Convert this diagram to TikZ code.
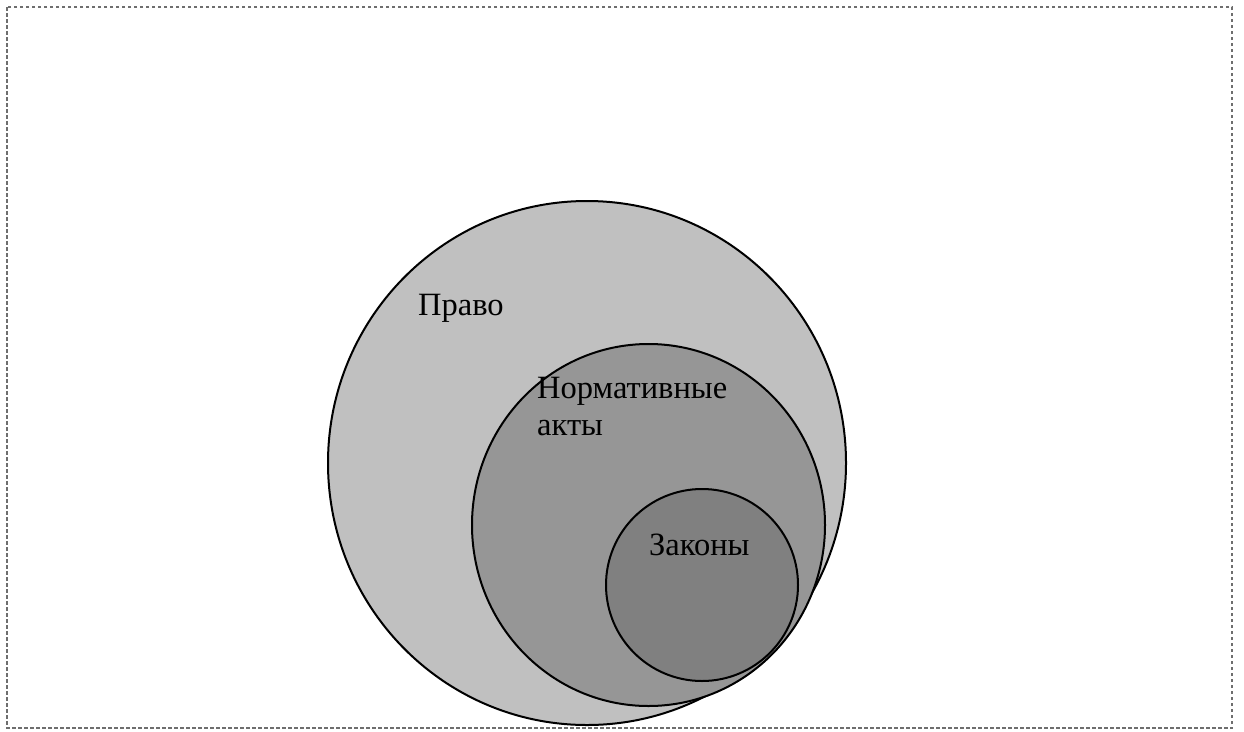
\documentclass[tikz,border=0pt]{standalone}
\usepackage{fontspec}
\setmainfont{Liberation Serif}
\newfontfamily\lblfont{Liberation Serif}
\definecolor{cOuter}{HTML}{C0C0C0}
\definecolor{cMid}{HTML}{969696}
\definecolor{cIn}{HTML}{808080}
\definecolor{cFrame}{HTML}{6E6E6E}
\begin{document}
\begin{tikzpicture}[x=1pt,y=-1pt,
  setcircle/.style={draw=black,line width=2pt},
  lbl/.style={anchor=base west,inner sep=0pt,font=\lblfont\fontsize{32.5}{37}\selectfont,text=black,align=left},
  frame/.style={draw=cFrame,line width=1.2pt,dash pattern=on 3.5pt off 2.5pt}]
\useasboundingbox (0,0) rectangle (1244,731);
\draw[frame] (7,7) rectangle (1232,728);
\draw[setcircle,fill=cOuter] (587,463) ellipse [x radius=259, y radius=262];
\draw[setcircle,fill=cMid] (648.5,525) ellipse [x radius=176.5, y radius=181];
\draw[setcircle,fill=cIn] (702,585) ellipse [x radius=96, y radius=96];
\node[lbl] (pravo) at (418,315) {Право};
\node[lbl] (norm) at (537,435) {Нормативные\\акты};
\node[lbl] (zak) at (649,555) {Законы};
\end{tikzpicture}
\end{document}
